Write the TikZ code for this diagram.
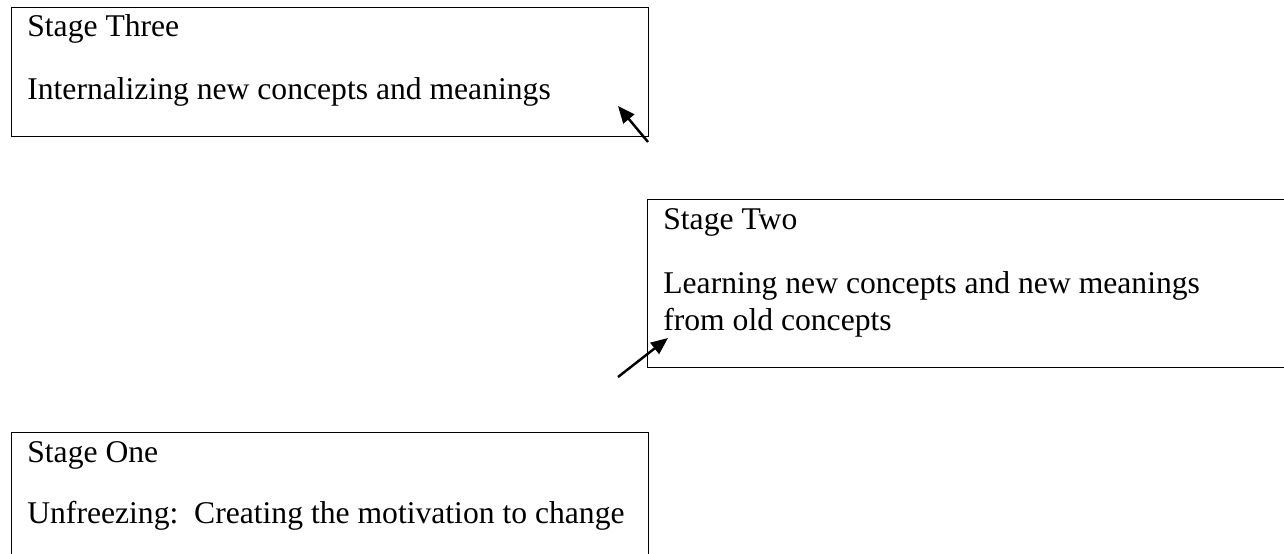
\documentclass[tikz,border=0pt]{standalone}
\usepackage{fontspec}
\setmainfont{Liberation Serif}
\usetikzlibrary{arrows.meta}

\begin{document}
\begin{tikzpicture}[x=0.02cm,y=-0.02cm,
    stagebox/.style={draw,line width=0.8pt,rectangle,anchor=north west,inner sep=0pt},
    stagetext/.style={anchor=base west,inner sep=0pt,
        font=\fontsize{18}{22}\selectfont},
    stagearrow/.style={line width=1.4pt,-{Triangle[length=0.34cm,width=0.28cm]}}]
    \useasboundingbox (0,0) rectangle (1284,554);
    \clip (0,0) rectangle (1284,554);
    % stage three
    \node[stagebox,minimum width=12.74cm,minimum height=2.58cm] (three) at (11,7) {};
    \node[stagetext] (threetitle) at (27,37) {Stage Three};
    \node[stagetext] (threebody) at (27,100) {Internalizing new concepts and meanings};
    % stage two
    \node[stagebox,minimum width=14cm,minimum height=3.36cm] (two) at (647,199) {};
    \node[stagetext] (twotitle) at (663,229) {Stage Two};
    \node[stagetext] (twobody) at (663,293) {Learning new concepts and new meanings};
    \node[stagetext] (twobodymore) at (663,330) {from old concepts};
    % stage one
    \node[stagebox,minimum width=12.74cm,minimum height=4cm] (one) at (11,432) {};
    \node[stagetext] (onetitle) at (27,462) {Stage One};
    \node[stagetext] (onebody) at (27,523) {Unfreezing:\ \ Creating the motivation to change};
    % arrows
    \coordinate (threefoot) at (648,142);
    \coordinate (threetip) at (618,106);
    \coordinate (twofoot) at (618,377);
    \coordinate (twotip) at (668,338);
    \draw[stagearrow] (threefoot) -- (threetip);
    \draw[stagearrow] (twofoot) -- (twotip);
\end{tikzpicture}
\end{document}
